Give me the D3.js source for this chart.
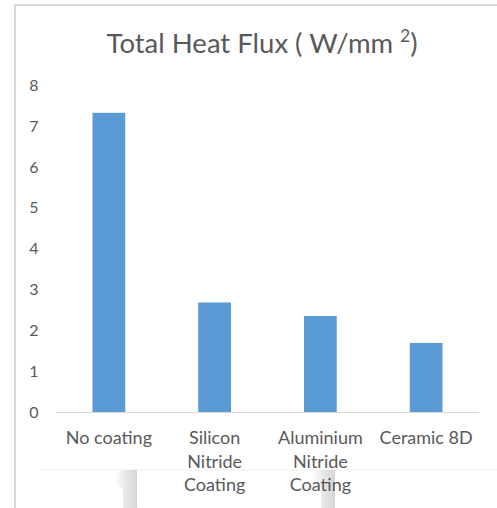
<!DOCTYPE html>
<html><head><meta charset="utf-8">
<script src="https://cdn.jsdelivr.net/npm/d3@7"></script>
<style>body{margin:0;background:#fff}svg{display:block}</style>
</head><body>
<script>
const categories = [["No coating"], ["Silicon","Nitride","Coating"], ["Aluminium","Nitride","Coating"], ["Ceramic 8D"]];
const values = [7.32, 2.68, 2.35, 1.69];
const yTicks = [0,1,2,3,4,5,6,7,8];
const title = "Total Heat Flux ( W/mm ";

const W = 497, H = 508;
const svg = d3.select("body").append("svg").attr("width", W).attr("height", H);
const font = "Lato, 'Open Sans', sans-serif";

// faint scan artifacts at bottom
const defs = svg.append("defs");
const g1 = defs.append("linearGradient").attr("id","shade").attr("x1","0").attr("x2","1").attr("y1","0").attr("y2","0");
g1.append("stop").attr("offset","0").attr("stop-color","#ffffff");
g1.append("stop").attr("offset","0.45").attr("stop-color","#e8e8e8");
g1.append("stop").attr("offset","1").attr("stop-color","#d6d6d6");
svg.append("rect").attr("x",40).attr("y",469).attr("width",457).attr("height",2).attr("fill","#f7f7f7");
[[115,137],[313,335]].forEach(([a,b])=>{
  svg.append("path").attr("d",`M${a},470 L${b},470 L${b},508 L${a+8},508 L${a+8},490 L${a},482 Z`).attr("fill","url(#shade)");
});

// frame
svg.append("line").attr("x1",14).attr("x2",W).attr("y1",5).attr("y2",5).attr("stroke","#d9d9d9").attr("stroke-width",2);
svg.append("line").attr("x1",15).attr("x2",15).attr("y1",4).attr("y2",H).attr("stroke","#d9d9d9").attr("stroke-width",2);

const x = d3.scaleBand().domain(d3.range(categories.length)).range([56,479]).paddingInner(0.69).paddingOuter(0.345);
const y = d3.scaleLinear().domain([0,8]).range([412,85]);

// title
const t = svg.append("text").attr("x",262).attr("y",53).attr("text-anchor","middle")
  .attr("font-family",font).attr("font-size",27.5).attr("fill","#595959");
t.append("tspan").text(title);
t.append("tspan").attr("dy",-11).attr("font-size",17).text("2");
t.append("tspan").attr("dy",11).text(")");

// y tick labels
svg.append("g").selectAll("text").data(yTicks).join("text")
  .attr("x",38.5).attr("y",d=>y(d)).attr("dy","0.36em").attr("text-anchor","end")
  .attr("font-family",font).attr("font-size",16).attr("fill","#595959").text(d=>d);

// bars
svg.append("g").selectAll("rect").data(values).join("rect")
  .attr("x",(d,i)=>x(i)).attr("width",x.bandwidth())
  .attr("y",d=>y(d)).attr("height",d=>y(0)-y(d)).attr("fill","#5b9bd5");

// baseline
svg.append("line").attr("x1",56).attr("x2",479).attr("y1",y(0)+0.5).attr("y2",y(0)+0.5).attr("stroke","#d9d9d9").attr("stroke-width",1);

// x labels
const xl = svg.append("g").selectAll("text").data(categories).join("text")
  .attr("x",(d,i)=>x(i)+x.bandwidth()/2).attr("y",444).attr("text-anchor","middle")
  .attr("font-family",font).attr("font-size",18).attr("fill","#595959");
xl.selectAll("tspan").data(d=>d).join("tspan")
  .attr("x",function(){return this.parentNode.getAttribute("x");})
  .attr("dy",(d,j)=>j===0?0:23.5).text(d=>d);
</script>
</body></html>
